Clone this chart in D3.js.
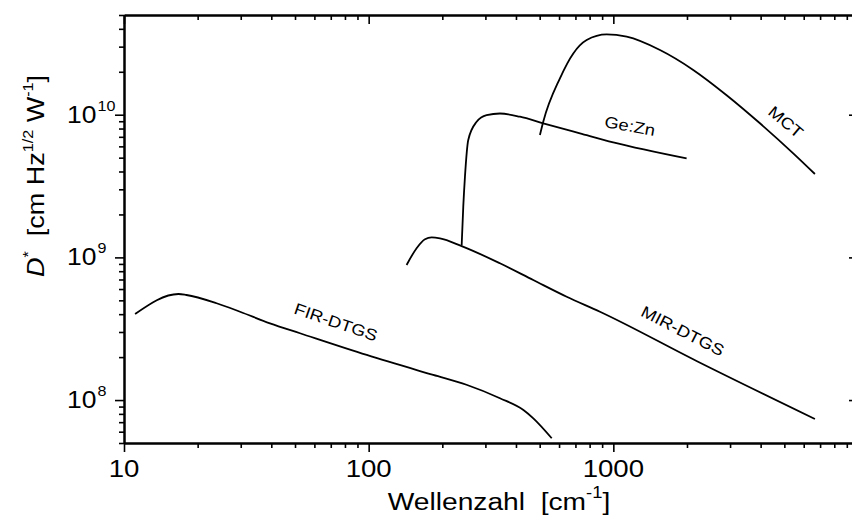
<!DOCTYPE html>
<html>
<head>
<meta charset="utf-8">
<script src="https://cdn.jsdelivr.net/npm/d3@7"></script>
<style>
  body { margin: 0; background: #fff; }
  svg { display: block; overflow: hidden; }
  text { font-family: "Liberation Sans", Arial, Helvetica, sans-serif; fill: #000; white-space: pre; }
</style>
</head>
<body>
<svg id="chart" width="852" height="516"></svg>
<script>
// detector curves (x: wavenumber in cm^-1, y: D*)
const firX = [11.1, 16.7, 18.0, 23.9, 29.8, 39.5, 52.4, 98.2, 183.6, 251, 344, 429, 471, 560];
const firY = [4.01e8, 5.54e8, 5.45e8, 4.77e8, 4.16e8, 3.45e8, 2.94e8, 2.07e8, 1.50e8, 1.28e8, 1.03e8, 8.52e7, 7.45e7, 5.40e7];

const mirX = [142.9, 157, 169.9, 180.9, 195.6, 239.9, 344, 470.6, 644.6, 881.7, 2188, 6668];
const mirY = [8.85e8, 1.16e9, 1.34e9, 1.38e9, 1.36e9, 1.20e9, 9.09e8, 6.94e8, 5.30e8, 4.16e8, 1.88e8, 7.37e7];

const geX = [239.9, 243.6, 247.5, 255.3, 276.3, 303.4, 344, 415.3, 517, 730.3, 999, 1993];
const geY = [1.21e9, 2.27e9, 3.68e9, 6.65e9, 8.93e9, 9.95e9, 1.02e10, 9.68e9, 8.71e9, 7.41e9, 6.41e9, 4.95e9];

const mctX = [501.2, 517, 605, 686, 778, 939, 1134, 1551, 2121, 2904, 3973, 5436, 6667];
const mctY = [7.21e9, 8.93e9, 1.80e10, 2.69e10, 3.34e10, 3.66e10, 3.52e10, 2.84e10, 2.06e10, 1.37e10, 8.71e9, 5.36e9, 3.84e9];

const curveNames = ['FIR-DTGS', 'MIR-DTGS', 'Ge:Zn', 'MCT'];
// label centre in data space + rotation (deg)
const labelX = [73.5, 1923, 1169, 5070];
const labelY = [3.52e8, 3.05e8, 8.34e9, 8.9e9];
const labelAngle = [19, 27, 10, 40];

const xMajor = [10, 100, 1000];
const yMajor = [1e8, 1e9, 1e10];
const yExp = [8, 9, 10];

const width = 852;
const height = 516;
const margin = { top: 15, right: -6, bottom: 73, left: 124 };
const stretch = 1.15; // the original lettering is wider than Liberation Sans

const svg = d3.select('#chart');

const x = d3.scaleLog()
  .domain([10, 10000])
  .range([margin.left, width - margin.right]);

const y = d3.scaleLog()
  .domain([5e7, 5e10])
  .range([height - margin.bottom, margin.top]);

// minor ticks 2..9 per decade
const xMinor = [];
[10, 100, 1000].forEach((d) => { for (let k = 2; k <= 9; k++) xMinor.push(d * k); });
const yMinor = [];
[1e7, 1e8, 1e9, 1e10].forEach((d) => {
  for (let k = 2; k <= 9; k++) {
    const v = d * k;
    if (v >= 5e7 && v <= 5e10) yMinor.push(v);
  }
});

const axisStyle = (g) => {
  g.select('.domain').attr('stroke-width', 2);
  g.selectAll('.tick line').attr('stroke-width', 1.6);
  g.selectAll('.tick text').remove();
};

const bottomY = height - margin.bottom;
const rightX = width - margin.right;

// bottom + top (top ticks point inward = same direction)
[bottomY, margin.top].forEach((pos) => {
  svg.append('g')
    .attr('transform', `translate(0,${pos})`)
    .call(d3.axisBottom(x).tickValues(xMinor).tickSize(5).tickSizeOuter(0).tickFormat(''))
    .call(axisStyle);
  svg.append('g')
    .attr('transform', `translate(0,${pos})`)
    .call(d3.axisBottom(x).tickValues(xMajor.concat([10000])).tickSize(9).tickSizeOuter(0).tickFormat(''))
    .call(axisStyle);
});

// left + right
[margin.left, rightX].forEach((pos) => {
  svg.append('g')
    .attr('transform', `translate(${pos},0)`)
    .call(d3.axisLeft(y).tickValues(yMinor).tickSize(5).tickSizeOuter(0).tickFormat(''))
    .call(axisStyle);
  svg.append('g')
    .attr('transform', `translate(${pos},0)`)
    .call(d3.axisLeft(y).tickValues(yMajor).tickSize(9).tickSizeOuter(0).tickFormat(''))
    .call(axisStyle);
});

// text placed at (px, py), rotated, then stretched horizontally
function label(px, py, rot, size, anchor) {
  return svg.append('text')
    .attr('transform', `translate(${px},${py}) rotate(${rot}) scale(${stretch},1)`)
    .attr('text-anchor', anchor)
    .attr('font-size', size);
}

// x tick labels
xMajor.forEach((d) => {
  label(x(d), bottomY + 34, 0, 24, 'middle').text(d);
});

// y tick labels 10^n
yMajor.forEach((d, i) => {
  const t = label(67, y(d) + 8, 0, 23, 'start');
  t.append('tspan').text('10');
  t.append('tspan')
    .attr('font-size', 14)
    .attr('dy', -12)
    .attr('dx', 1)
    .text(yExp[i]);
});

// curves
const line = d3.line()
  .x((d) => x(d[0]))
  .y((d) => y(d[1]))
  .curve(d3.curveMonotoneX);

const series = [[firX, firY], [mirX, mirY], [geX, geY], [mctX, mctY]];
svg.append('g')
  .selectAll('path')
  .data(series)
  .join('path')
  .attr('d', (s) => line(s[0].map((v, i) => [v, s[1][i]])))
  .attr('fill', 'none')
  .attr('stroke', '#000')
  .attr('stroke-width', 1.8);

// curve labels
curveNames.forEach((name, i) => {
  label(x(labelX[i]), y(labelY[i]), labelAngle[i], 16, 'middle')
    .attr('dy', '0.35em')
    .text(name);
});

// x axis title
const xt = label(499, 510, 0, 24.5, 'middle');
xt.append('tspan').text('Wellenzahl\u00a0\u00a0[cm');
xt.append('tspan').attr('font-size', 16).attr('dy', -12).text('-1');
xt.append('tspan').attr('dy', 12).text(']');

// y axis title
const yt = label(44, 176, -90, 23.5, 'middle');
yt.append('tspan').attr('font-style', 'italic').text('D');
yt.append('tspan').attr('font-size', 14).attr('dy', -11).text('*');
yt.append('tspan').attr('dy', 11).text('\u00a0\u00a0[cm Hz');
yt.append('tspan').attr('font-size', 14).attr('dy', -11).text('1/2');
yt.append('tspan').attr('dy', 11).text(' W');
yt.append('tspan').attr('font-size', 14).attr('dy', -11).text('-1');
yt.append('tspan').attr('dy', 11).text(']');
</script>
</body>
</html>
